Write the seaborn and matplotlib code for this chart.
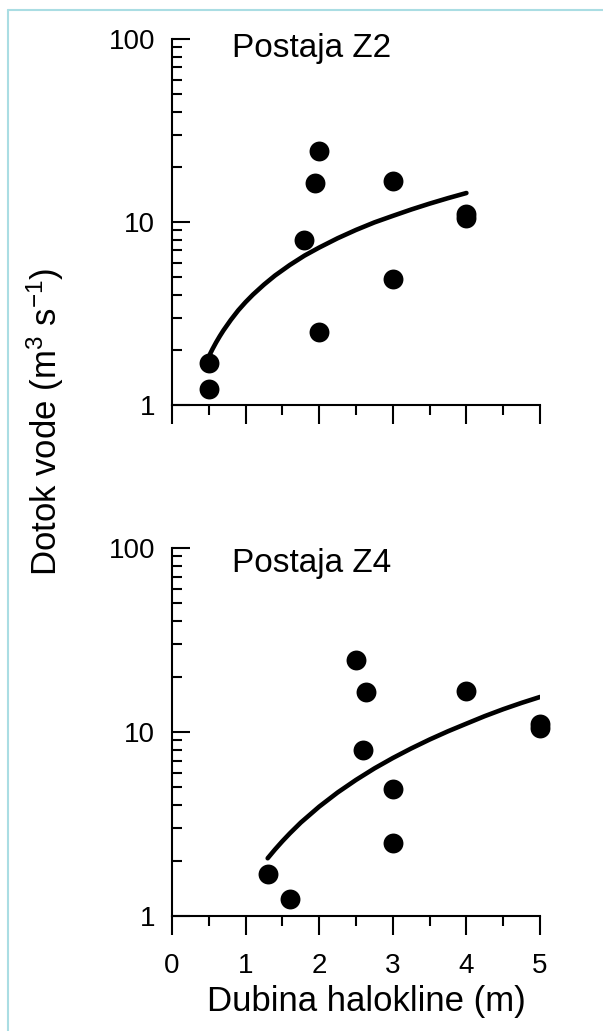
import numpy as np
import pandas as pd
import matplotlib
matplotlib.use("Agg")
import matplotlib.pyplot as plt
import matplotlib.transforms as mtransforms
from matplotlib.lines import Line2D
import seaborn as sns

# Water inflow (m3/s) for each sampling event
flow = [1.70, 1.23, 8.0, 16.4, 24.5, 2.5, 16.8, 4.9, 11.0, 10.5]
# Halocline depth (m) at the two stations for the same events
depth_z2 = [0.5, 0.5, 1.8, 1.94, 2.0, 2.0, 3.0, 3.0, 4.0, 4.0]
depth_z4 = [1.3, 1.6, 2.6, 2.64, 2.5, 3.0, 4.0, 3.0, 5.0, 5.0]

# Fitted trend lines (depth, inflow)
trend_z2_x = [0.5, 0.55, 0.6, 0.65, 0.7, 0.8, 0.9, 1.0, 1.1, 1.25, 1.4, 1.6, 1.8, 2.0,
              2.25, 2.5, 2.75, 3.0, 3.25, 3.5, 3.75, 4.0]
trend_z2_y = [1.84, 2.02, 2.20, 2.38, 2.56, 2.92, 3.29, 3.65, 4.01, 4.55, 5.10, 5.82,
              6.55, 7.25, 8.15, 9.05, 9.95, 10.8, 11.7, 12.6, 13.5, 14.4]
trend_z4_x = [1.3, 1.4, 1.5, 1.6, 1.75, 2.0, 2.25, 2.5, 2.75, 3.0, 3.25, 3.5, 3.75, 4.0,
              4.25, 4.5, 4.75, 5.0]
trend_z4_y = [2.06, 2.30, 2.55, 2.81, 3.22, 3.93, 4.69, 5.49, 6.34, 7.22, 8.14, 9.10,
              10.09, 11.1, 12.2, 13.3, 14.4, 15.5]

stations = ["Postaja Z2", "Postaja Z4"]
x_ticks = [0, 1, 2, 3, 4, 5]
y_ticks = [1, 10, 100]
y_tick_labels = ["1", "10", "100"]

sns.set_theme(style="ticks")
plt.rcParams["font.family"] = ["Liberation Sans", "DejaVu Sans"]
plt.rcParams["mathtext.fontset"] = "custom"
plt.rcParams["mathtext.rm"] = "Liberation Sans"
plt.rcParams["mathtext.it"] = "Liberation Sans"

W, H = 603, 1031
fig = plt.figure(figsize=(W / 100, H / 100), dpi=100)
fig.patch.set_facecolor("white")

ax1 = fig.add_axes([172 / W, 1 - 405 / H, 368 / W, 366 / H])
ax2 = fig.add_axes([172 / W, 1 - 916 / H, 368 / W, 368 / H])

panels = [
    (ax1, depth_z2, trend_z2_x, trend_z2_y, stations[0], 18),
    (ax2, depth_z4, trend_z4_x, trend_z4_y, stations[1], 24),
]

for ax, depth, tx, ty, title, title_drop in panels:
    ax.set_facecolor("white")
    df = pd.DataFrame({"depth": depth, "flow": flow})
    sns.lineplot(x=tx, y=ty, ax=ax, color="black", linewidth=3.3,
                 estimator=None, sort=False, legend=False)
    sns.scatterplot(data=df, x="depth", y="flow", ax=ax, color="black",
                    s=205, linewidth=0, legend=False, clip_on=False, zorder=3)
    ax.set_yscale("log")
    ax.set_xlim(0, 5)
    ax.set_ylim(1, 100)
    ax.set_xlabel("")
    ax.set_ylabel("")
    for side in ("top", "right"):
        ax.spines[side].set_visible(False)
    for side in ("left", "bottom"):
        ax.spines[side].set_linewidth(1.5)
        ax.spines[side].set_color("black")

    ax.yaxis.set_major_locator(matplotlib.ticker.FixedLocator(y_ticks))
    ax.yaxis.set_major_formatter(matplotlib.ticker.FixedFormatter(y_tick_labels))
    ax.yaxis.set_minor_locator(matplotlib.ticker.LogLocator(base=10, subs=np.arange(2, 10)))
    ax.yaxis.set_minor_formatter(matplotlib.ticker.NullFormatter())
    ax.set_xticks(x_ticks)
    ax.xaxis.set_minor_locator(matplotlib.ticker.MultipleLocator(0.5))

    ax.tick_params(axis="y", which="major", direction="in", length=13, width=1.5,
                   labelsize=20, pad=12, colors="black")
    ax.tick_params(axis="y", which="minor", direction="in", length=7, width=1.5, colors="black")
    ax.tick_params(axis="x", which="major", direction="out", length=13.5, width=1.5,
                   labelsize=20, pad=13, colors="black")
    ax.tick_params(axis="x", which="minor", direction="out", length=7, width=1.5, colors="black")

    trans = mtransforms.blended_transform_factory(ax.transData, ax.transAxes)
    ax.text(0.82, 1 - title_drop / 366, title, transform=trans, fontsize=24,
            ha="left", va="baseline", color="black")

ax1.tick_params(axis="x", labelbottom=False)

fig.text(366 / W, 1 - 1001 / H, "Dubina halokline (m)", fontsize=25,
         ha="center", va="center", color="black")
fig.text(45 / W, 1 - 422 / H, r"Dotok vode (m$^{3}$ s$^{-1}$)", fontsize=25,
         rotation=90, ha="center", va="center", color="black")

# Light frame along the left and top edges
frame_color = "#aadde3"
fig.add_artist(Line2D([8 / W, 8 / W], [0, 1 - 10 / H], transform=fig.transFigure,
                      color=frame_color, linewidth=1.5))
fig.add_artist(Line2D([8 / W, 1], [1 - 10 / H, 1 - 10 / H], transform=fig.transFigure,
                      color=frame_color, linewidth=1.5))

fig.savefig("out.png", dpi=100, facecolor="white")
